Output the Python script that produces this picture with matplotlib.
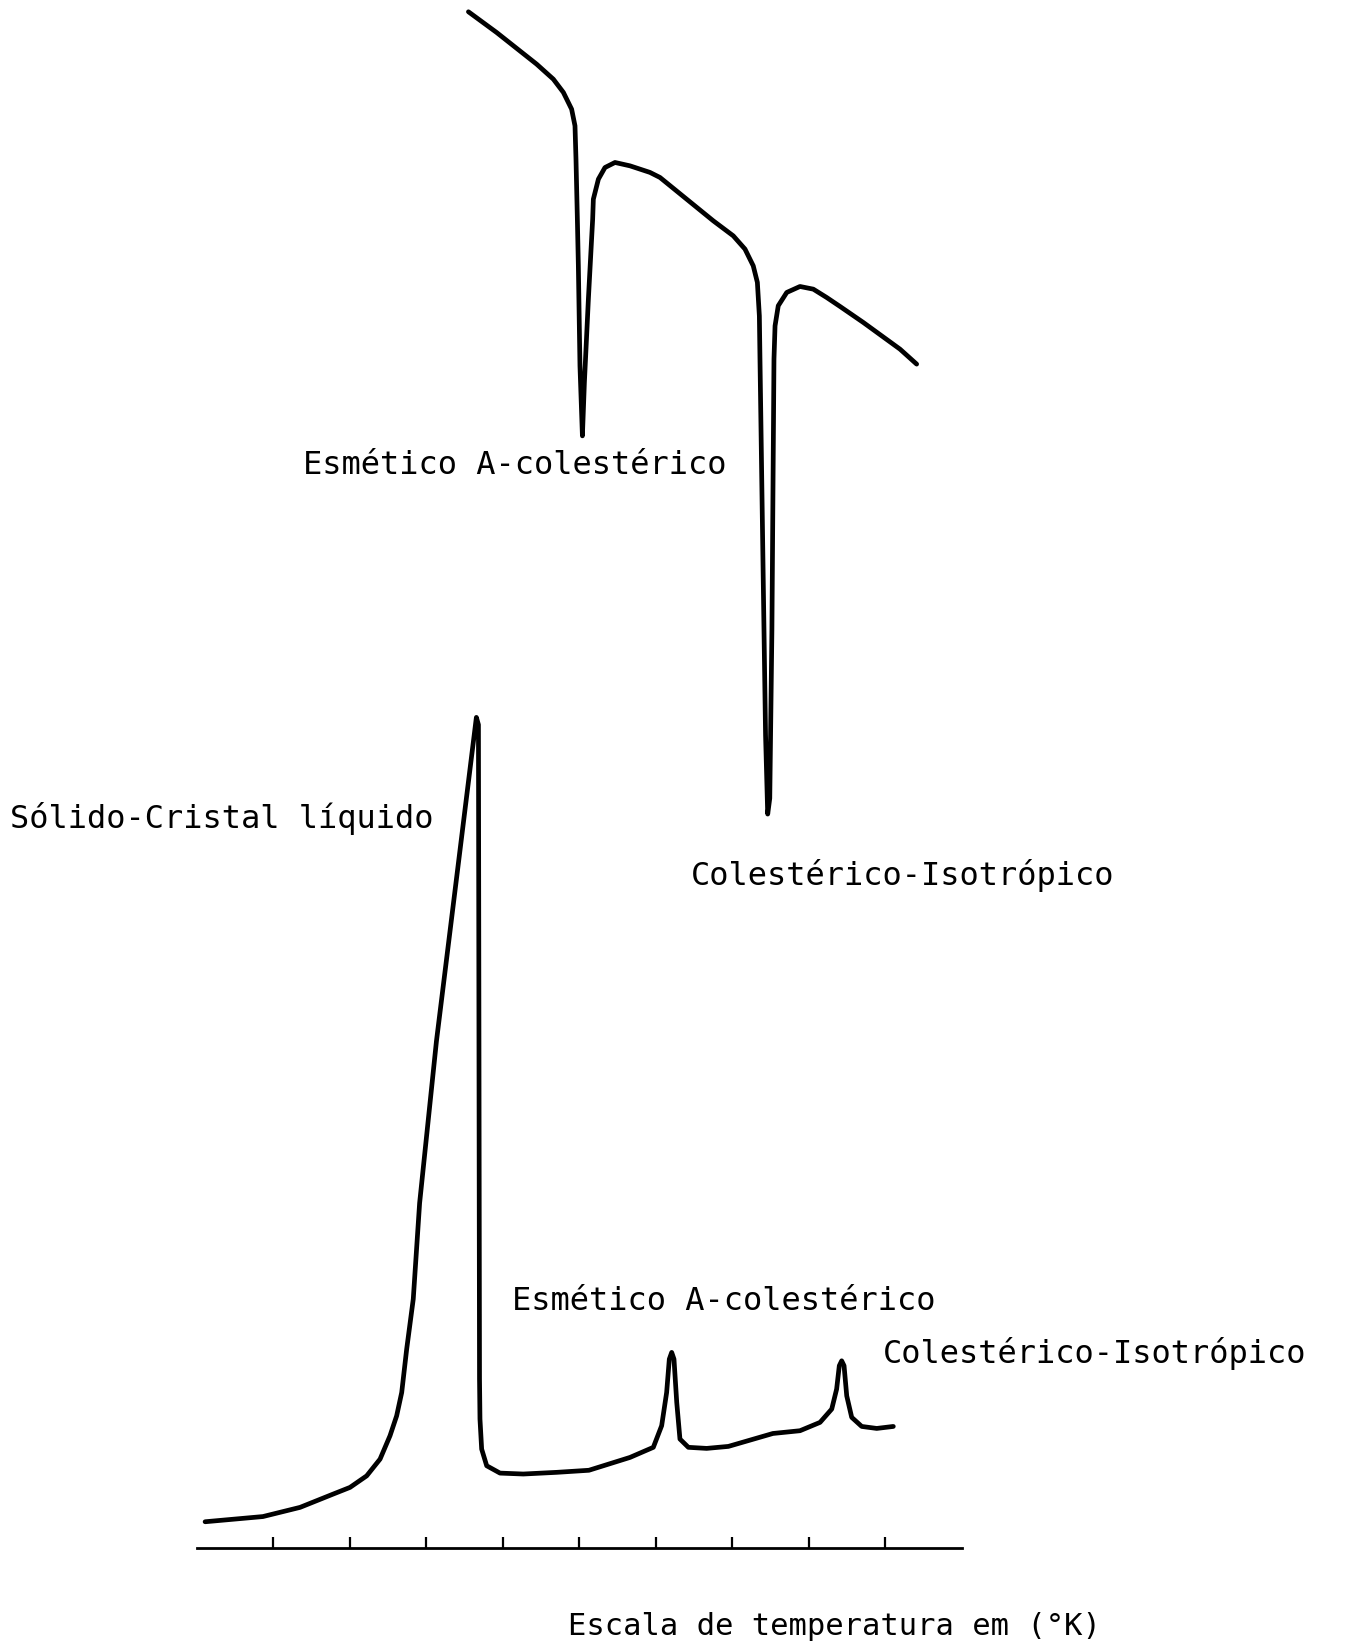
import matplotlib
matplotlib.use("Agg")
import matplotlib.pyplot as plt

# curva de aquecimento (endotermica), temperatura em divisoes da escala (10 por traco)
temp_aquec = [1.07, 8.63, 13.48, 17.84, 20.01, 22.19, 23.94, 25.24, 26.11,
              26.77, 27.42, 28.28, 29.11, 31.31, 33.92, 36.53, 36.80, 36.94, 37.00,
              37.22, 37.88, 39.62, 42.66, 47.03, 51.24, 56.61, 59.66, 60.75,
              61.40, 61.75, 62.06, 62.36, 62.72, 63.14, 64.24, 66.63, 69.47, 75.29,
              78.83, 81.45, 82.98, 83.62, 83.97, 84.28, 84.59, 84.94, 85.59, 86.90,
              88.86, 91.03]
sinal_aquec = [3.44, 4.12, 5.32, 7.07, 7.93, 9.44, 11.63, 14.68, 17.29,
               20.34, 26.01, 32.55, 45.09, 66.26, 87.42, 108.59, 107.63, 22.13, 16.87,
               12.94, 10.76, 9.80, 9.68, 9.90, 10.17, 11.85, 13.17, 16.00,
               20.34, 24.70, 25.58, 24.70, 19.04, 14.25, 13.17, 13.03, 13.29, 14.98,
               15.34, 16.43, 18.17, 20.78, 23.84, 24.48, 23.84, 19.90, 17.09, 15.90,
               15.64, 15.90]

# curva de resfriamento (picos exotermicos para baixo)
temp_resfr = [35.49, 39.18, 44.41, 46.59, 47.90, 48.98, 49.42, 49.55, 49.73, 49.86,
              50.07, 50.39, 50.65, 51.17, 51.73, 51.82, 52.48, 53.34, 54.65, 56.61,
              59.22, 60.53, 67.50, 70.11, 71.64, 72.72, 73.26, 73.52, 73.60,
              73.92, 74.33, 74.61, 74.88, 75.16, 75.43, 75.57, 75.99, 77.10, 78.83,
              80.57, 82.32, 84.06, 87.10, 91.90, 94.08]
sinal_resfr = [200.83, 198.12, 193.98, 192.02, 190.29, 188.10, 185.92, 181.57, 173.72, 167.62,
               154.55, 145.39, 152.38, 163.26, 173.72, 176.33, 178.95, 180.47, 181.13, 180.69,
               179.83, 179.17, 173.50, 171.54, 169.81, 167.62, 165.45, 161.07, 155.43,
               133.75, 106.26, 95.95, 98.01, 120.00, 155.43, 159.77, 162.40, 164.14, 164.92,
               164.57, 163.48, 162.31, 160.22, 156.73, 154.77]

ticks_temp = [10, 20, 30, 40, 50, 60, 70, 80, 90]

# rotulos das transicoes: (texto, temperatura, sinal)
rotulos = [
    ("Esmético A-colestérico", 13.85, 141.6),
    ("Sólido-Cristal líquido", -24.37, 95.5),
    ("Colestérico-Isotrópico", 64.57, 88.1),
    ("Esmético A-colestérico", 41.2, 32.3),
    ("Colestérico-Isotrópico", 89.73, 25.57),
]

fonte = "DejaVu Sans Mono"

fig = plt.figure(figsize=(13.45, 16.49), dpi=100)
ax = fig.add_axes([0.1464, 0.0606, 0.5688, 0.9394])

for xs, ys in [(temp_aquec, sinal_aquec), (temp_resfr, sinal_resfr)]:
    ax.plot(xs, ys, color="black", lw=3.4,
            solid_capstyle="round", solid_joinstyle="round")

ax.set_xlim(0, 100)
ax.set_ylim(0, 202.5)

for lado in ["top", "left", "right"]:
    ax.spines[lado].set_visible(False)
ax.spines["bottom"].set_linewidth(2.0)
ax.set_xticks(ticks_temp)
ax.set_xticklabels([])
ax.set_yticks([])
ax.tick_params(axis="x", direction="in", length=8, width=1.6)

for texto, t, s in rotulos:
    ax.text(t, s, texto, fontsize=23, family=fonte, ha="left", va="center",
            clip_on=False)

ax.text(48.49, -10.17, "Escala de temperatura em (°K)", fontsize=22, family=fonte,
        ha="left", va="center", clip_on=False)

fig.savefig("out.png", dpi=100)
